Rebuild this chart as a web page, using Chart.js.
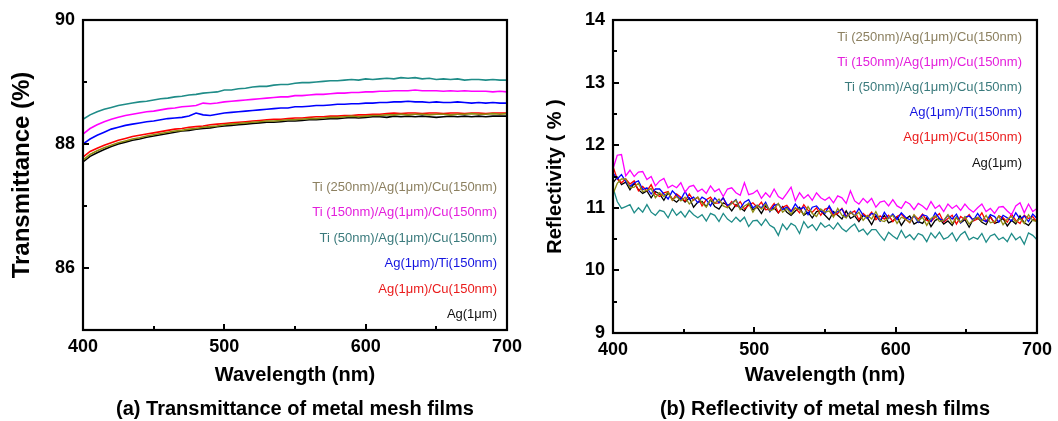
<!DOCTYPE html>
<html>
<head>
<meta charset="utf-8">
<title>Metal mesh films</title>
<script src="https://cdn.jsdelivr.net/npm/chart.js@4.4.1/dist/chart.umd.min.js"></script>
<style>
  html, body { margin: 0; padding: 0; background: #fff; }
  #wrap { position: relative; width: 1058px; height: 421px; }
  #wrap canvas { position: absolute; top: 0; }
  #trans { left: 0; }
  #refl { left: 530px; }
</style>
</head>
<body>
<div id="wrap">
  <canvas id="trans" width="530" height="421"></canvas>
  <canvas id="refl" width="528" height="421"></canvas>
</div>
<script>
const FONT = "'Liberation Sans', Arial, Helvetica, sans-serif";

// sample names, listed top to bottom as in the in-plot key
const sampleNames = [
  'Ti (250nm)/Ag(1μm)/Cu(150nm)',
  'Ti (150nm)/Ag(1μm)/Cu(150nm)',
  'Ti (50nm)/Ag(1μm)/Cu(150nm)',
  'Ag(1μm)/Ti(150nm)',
  'Ag(1μm)/Cu(150nm)',
  'Ag(1μm)'
];
const lineColors = ['#8e8c12', '#ff00ff', '#1f8c88', '#0000ff', '#ff0000', '#000000'];
const nameColors = ['#8c8060', '#e41edc', '#3a7a7c', '#1414e0', '#ea1c1c', '#111111'];

// transmittance (%), 400–700 nm every 5 nm
const transStart = 400, transStep = 5;
const transTi250 = [
  87.74, 87.83, 87.89, 87.94, 87.98, 88.02, 88.05, 88.08, 88.10, 88.13,
  88.15, 88.17, 88.19, 88.21, 88.22, 88.24, 88.25, 88.27, 88.28, 88.29,
  88.31, 88.32, 88.33, 88.34, 88.35, 88.36, 88.37, 88.37, 88.38, 88.39,
  88.39, 88.40, 88.41, 88.41, 88.42, 88.43, 88.43, 88.44, 88.45, 88.44,
  88.45, 88.46, 88.46, 88.47, 88.47, 88.48, 88.47, 88.48, 88.48, 88.47,
  88.48, 88.48, 88.47, 88.48, 88.48, 88.49, 88.48, 88.48, 88.49, 88.48,
  88.49
];
const transTi150 = [
  88.16, 88.25, 88.31, 88.36, 88.40, 88.43, 88.46, 88.48, 88.50, 88.52,
  88.53, 88.55, 88.57, 88.58, 88.60, 88.61, 88.62, 88.66, 88.65, 88.66,
  88.68, 88.69, 88.70, 88.71, 88.72, 88.73, 88.74, 88.75, 88.76, 88.76,
  88.78, 88.78, 88.79, 88.80, 88.80, 88.81, 88.82, 88.82, 88.83, 88.83,
  88.84, 88.84, 88.85, 88.85, 88.86, 88.86, 88.86, 88.87, 88.86, 88.86,
  88.86, 88.85, 88.86, 88.85, 88.86, 88.85, 88.85, 88.85, 88.84, 88.85,
  88.84
];
const transTi50 = [
  88.40, 88.47, 88.52, 88.56, 88.59, 88.62, 88.64, 88.66, 88.68, 88.69,
  88.71, 88.73, 88.74, 88.76, 88.77, 88.79, 88.80, 88.82, 88.83, 88.84,
  88.87, 88.87, 88.89, 88.90, 88.92, 88.93, 88.93, 88.95, 88.96, 88.96,
  88.98, 88.99, 88.99, 89.00, 89.01, 89.02, 89.02, 89.03, 89.04, 89.03,
  89.05, 89.04, 89.05, 89.06, 89.05, 89.07, 89.06, 89.07, 89.05, 89.06,
  89.04, 89.05, 89.04, 89.05, 89.03, 89.04, 89.04, 89.03, 89.04, 89.03,
  89.03
];
const transAgTi = [
  88.00, 88.08, 88.14, 88.19, 88.24, 88.27, 88.30, 88.32, 88.34, 88.36,
  88.37, 88.39, 88.41, 88.42, 88.43, 88.45, 88.50, 88.47, 88.46, 88.48,
  88.50, 88.51, 88.52, 88.53, 88.54, 88.55, 88.56, 88.57, 88.58, 88.58,
  88.60, 88.60, 88.61, 88.62, 88.62, 88.63, 88.64, 88.64, 88.65, 88.65,
  88.66, 88.66, 88.67, 88.67, 88.68, 88.68, 88.69, 88.68, 88.68, 88.67,
  88.68, 88.67, 88.67, 88.68, 88.67, 88.66, 88.67, 88.66, 88.67, 88.66,
  88.66
];
const transAgCu = [
  87.79, 87.88, 87.93, 87.98, 88.02, 88.06, 88.09, 88.12, 88.14, 88.16,
  88.18, 88.20, 88.22, 88.24, 88.25, 88.27, 88.28, 88.29, 88.31, 88.32,
  88.33, 88.34, 88.35, 88.36, 88.37, 88.38, 88.39, 88.40, 88.40, 88.41,
  88.42, 88.42, 88.43, 88.44, 88.44, 88.45, 88.45, 88.46, 88.46, 88.47,
  88.47, 88.48, 88.48, 88.49, 88.50, 88.49, 88.50, 88.50, 88.49, 88.50,
  88.50, 88.49, 88.50, 88.50, 88.49, 88.50, 88.50, 88.49, 88.50, 88.50,
  88.50
];
const transAg = [
  87.71, 87.80, 87.86, 87.91, 87.96, 88.00, 88.03, 88.06, 88.08, 88.11,
  88.13, 88.15, 88.17, 88.19, 88.21, 88.22, 88.24, 88.25, 88.26, 88.28,
  88.29, 88.30, 88.31, 88.32, 88.33, 88.34, 88.35, 88.35, 88.36, 88.37,
  88.37, 88.38, 88.39, 88.39, 88.40, 88.41, 88.41, 88.42, 88.43, 88.42,
  88.43, 88.44, 88.44, 88.43, 88.45, 88.44, 88.45, 88.44, 88.45, 88.44,
  88.43, 88.44, 88.45, 88.44, 88.45, 88.44, 88.45, 88.44, 88.45, 88.45,
  88.45
];

// reflectivity (%), 400–700 nm every 3 nm
const reflStart = 400, reflStep = 3;
const reflTi250 = [
  11.22, 11.39, 11.46, 11.46, 11.32, 11.33, 11.39, 11.26, 11.28, 11.31,
  11.16, 11.24, 11.18, 11.25, 11.12, 11.18, 11.11, 11.17, 11.06, 11.13,
  11.17, 11.08, 11.01, 11.13, 11.07, 11.14, 11.03, 11.00, 11.07, 11.12,
  10.97, 11.03, 11.07, 10.93, 11.04, 10.98, 11.06, 10.95, 10.98, 11.07,
  10.93, 10.99, 10.90, 11.00, 10.97, 10.89, 11.02, 10.91, 10.86, 10.98,
  10.93, 10.95, 10.85, 10.99, 10.88, 10.84, 10.93, 10.87, 10.93, 10.80,
  10.88, 10.82, 10.94, 10.80, 10.78, 10.84, 10.88, 10.75, 10.85, 10.82,
  10.77, 10.89, 10.79, 10.85, 10.72, 10.83, 10.87, 10.78, 10.80, 10.89,
  10.75, 10.84, 10.77, 10.86, 10.74, 10.81, 10.85, 10.79, 10.88, 10.76,
  10.78, 10.87, 10.73, 10.82, 10.86, 10.77, 10.83, 10.75, 10.89, 10.80,
  10.78
];
const reflTi150 = [
  11.62, 11.84, 11.85, 11.51, 11.60, 11.50, 11.57, 11.58, 11.45, 11.50,
  11.35, 11.43, 11.47, 11.32, 11.36, 11.32, 11.40, 11.25, 11.34, 11.36,
  11.26, 11.30, 11.23, 11.35, 11.26, 11.30, 11.18, 11.30, 11.32, 11.24,
  11.20, 11.40, 11.21, 11.23, 11.28, 11.15, 11.24, 11.17, 11.30, 11.18,
  11.14, 11.23, 11.33, 11.11, 11.24, 11.15, 11.21, 11.12, 11.24, 11.16,
  11.12, 11.17, 11.08, 11.19, 11.16, 11.07, 11.27, 11.11, 11.06, 11.15,
  11.08, 11.15, 11.01, 11.09, 11.11, 11.03, 11.13, 11.03, 10.99, 11.10,
  11.06, 10.97, 11.07, 11.03, 10.97, 11.10, 10.99, 11.04, 10.94, 11.06,
  10.99, 11.04, 10.96, 11.06, 10.98, 10.93, 11.00, 11.06, 10.94, 10.99,
  10.91, 11.01, 11.02, 10.95, 10.89, 11.03, 11.08, 10.92, 11.06, 10.94,
  10.99
];
const reflTi50 = [
  11.32, 11.10, 10.99, 11.02, 11.05, 10.92, 11.00, 10.93, 11.05, 10.93,
  10.88, 10.96, 10.94, 10.84, 10.98, 10.88, 10.94, 10.85, 10.96, 10.89,
  10.84, 10.89, 10.79, 10.91, 10.88, 10.78, 10.91, 10.82, 10.77, 10.85,
  10.78, 10.85, 10.70, 10.79, 10.80, 10.72, 10.82, 10.72, 10.68, 10.56,
  10.74, 10.65, 10.75, 10.71, 10.59, 10.78, 10.68, 10.73, 10.64, 10.76,
  10.69, 10.73, 10.66, 10.76, 10.67, 10.62, 10.69, 10.74, 10.62, 10.66,
  10.57, 10.65, 10.65, 10.56, 10.48, 10.61, 10.55, 10.50, 10.64, 10.52,
  10.57, 10.49, 10.59, 10.56, 10.46, 10.60, 10.52, 10.61, 10.50, 10.53,
  10.60, 10.47, 10.57, 10.62, 10.49, 10.53, 10.50, 10.59, 10.45, 10.55,
  10.58, 10.49, 10.53, 10.46, 10.59, 10.49, 10.54, 10.42, 10.60, 10.56,
  10.49
];
const reflAgTi = [
  11.56, 11.46, 11.53, 11.42, 11.34, 11.40, 11.43, 11.29, 11.32, 11.22,
  11.30, 11.30, 11.22, 11.14, 11.27, 11.20, 11.13, 11.26, 11.13, 11.17,
  11.08, 11.17, 11.13, 11.03, 11.16, 11.08, 11.16, 11.04, 11.07, 11.13,
  10.99, 11.09, 11.13, 11.00, 11.04, 11.00, 11.09, 10.94, 11.04, 11.06,
  10.97, 11.01, 10.94, 11.06, 10.97, 11.01, 10.89, 11.01, 11.03, 10.95,
  10.91, 11.03, 10.91, 10.94, 10.98, 10.85, 10.94, 10.87, 10.99, 10.88,
  10.83, 10.91, 10.89, 10.79, 10.93, 10.83, 10.90, 10.81, 10.92, 10.85,
  10.81, 10.87, 10.77, 10.89, 10.87, 10.78, 10.92, 10.83, 10.79, 10.88,
  10.82, 10.90, 10.76, 10.85, 10.87, 10.80, 10.91, 10.81, 10.78, 10.89,
  10.86, 10.77, 10.88, 10.84, 10.79, 10.92, 10.82, 10.87, 10.78, 10.90,
  10.83
];
const reflAgCu = [
  11.66, 11.46, 11.40, 11.46, 11.38, 11.43, 11.27, 11.34, 11.27, 11.37,
  11.22, 11.18, 11.24, 11.26, 11.12, 11.22, 11.17, 11.11, 11.22, 11.12,
  11.17, 11.03, 11.13, 11.17, 11.07, 11.08, 11.16, 11.01, 11.10, 11.02,
  11.10, 10.98, 11.04, 11.08, 11.01, 11.09, 10.97, 10.98, 11.07, 10.92,
  11.01, 11.04, 10.95, 11.00, 10.92, 11.05, 10.96, 10.93, 11.00, 10.88,
  10.98, 11.00, 10.88, 10.91, 10.99, 10.87, 10.91, 10.95, 10.81, 10.91,
  10.85, 10.93, 10.81, 10.87, 10.82, 10.88, 10.78, 10.86, 10.90, 10.82,
  10.76, 10.88, 10.82, 10.90, 10.80, 10.78, 10.85, 10.91, 10.77, 10.83,
  10.88, 10.74, 10.86, 10.81, 10.89, 10.79, 10.82, 10.92, 10.78, 10.85,
  10.76, 10.87, 10.84, 10.77, 10.90, 10.80, 10.75, 10.88, 10.83, 10.86,
  10.77
];
const reflAg = [
  11.40, 11.49, 11.37, 11.41, 11.29, 11.39, 11.29, 11.23, 11.27, 11.16,
  11.26, 11.22, 11.12, 11.24, 11.14, 11.09, 11.16, 11.09, 11.16, 11.01,
  11.09, 11.10, 11.02, 11.13, 11.02, 10.98, 11.08, 11.04, 10.95, 11.05,
  11.00, 10.95, 11.07, 10.97, 11.01, 10.91, 11.03, 10.95, 11.00, 10.92,
  11.02, 10.93, 10.88, 10.95, 11.01, 10.88, 10.93, 10.84, 10.94, 10.95,
  10.88, 10.81, 10.94, 10.88, 10.82, 10.95, 10.83, 10.87, 10.78, 10.88,
  10.84, 10.73, 10.87, 10.79, 10.88, 10.76, 10.79, 10.86, 10.72, 10.82,
  10.87, 10.74, 10.78, 10.75, 10.84, 10.70, 10.80, 10.83, 10.74, 10.79,
  10.72, 10.85, 10.76, 10.81, 10.69, 10.82, 10.84, 10.77, 10.73, 10.86,
  10.75, 10.78, 10.83, 10.71, 10.80, 10.74, 10.87, 10.76, 10.72, 10.81,
  10.79
];

const transSeries = [transTi250, transTi150, transTi50, transAgTi, transAgCu, transAg];
const reflSeries = [reflTi250, reflTi150, reflTi50, reflAgTi, reflAgCu, reflAg];

function toPoints(values, start, step) {
  return values.map((v, i) => ({ x: start + i * step, y: v }));
}

function makeDatasets(series, start, step, width) {
  return series.map((values, i) => ({
    label: sampleNames[i],
    data: toPoints(values, start, step),
    borderColor: lineColors[i],
    nameColor: nameColors[i],
    borderWidth: width,
    pointRadius: 0,
    tension: 0
  }));
}

function isMultiple(v, step) {
  const r = v / step;
  return Math.abs(r - Math.round(r)) < 1e-6;
}

// frame, inward tick marks and the coloured sample names
const framePlugin = {
  id: 'frame',
  afterDatasetsDraw(chart, args, opts) {
    const { ctx, chartArea: a, scales: { x, y } } = chart;
    ctx.save();
    ctx.strokeStyle = '#000';
    ctx.lineWidth = 2;
    x.ticks.forEach(t => {
      const px = Math.round(x.getPixelForValue(t.value));
      const len = isMultiple(t.value, opts.majorX) ? 6 : 4;
      ctx.beginPath();
      ctx.moveTo(px, a.bottom);
      ctx.lineTo(px, a.bottom - len);
      ctx.stroke();
    });
    y.ticks.forEach(t => {
      const py = Math.round(y.getPixelForValue(t.value));
      const len = isMultiple(t.value, opts.majorY) ? 6 : 4;
      ctx.beginPath();
      ctx.moveTo(a.left, py);
      ctx.lineTo(a.left + len, py);
      ctx.stroke();
    });
    ctx.lineWidth = 2.2;
    ctx.strokeRect(a.left, a.top, a.width, a.height);

    ctx.font = `13px ${FONT}`;
    ctx.textAlign = 'right';
    ctx.textBaseline = 'middle';
    chart.data.datasets.forEach((ds, i) => {
      ctx.fillStyle = ds.nameColor;
      ctx.fillText(ds.label, a.right - opts.keyRight, a.top + opts.keyTop + i * opts.keyGap);
    });
    ctx.restore();
  }
};

function makeChart(id, cfg) {
  const tickFont = { family: FONT, size: 18, weight: 'bold' };
  return new Chart(document.getElementById(id), {
    type: 'line',
    data: { datasets: cfg.datasets },
    options: {
      responsive: false,
      animation: false,
      layout: { padding: { top: 20, right: cfg.padRight, left: 0, bottom: 0 } },
      plugins: {
        legend: { display: false },
        tooltip: { enabled: false },
        title: {
          display: true,
          position: 'bottom',
          fullSize: false,
          text: cfg.caption,
          color: '#000',
          font: { family: FONT, size: 20, weight: 'bold', lineHeight: 1.2 },
          padding: { top: 2, bottom: 0 }
        },
        frame: {
          majorX: 100,
          majorY: cfg.majorY,
          keyRight: cfg.keyRight,
          keyTop: cfg.keyTop,
          keyGap: cfg.keyGap
        }
      },
      scales: {
        x: {
          type: 'linear',
          min: 400,
          max: 700,
          grid: { display: false, drawTicks: false },
          border: { display: false },
          ticks: {
            stepSize: 50,
            padding: 6,
            color: '#000',
            font: tickFont,
            maxRotation: 0,
            callback: v => (isMultiple(v, 100) ? v : '')
          },
          title: {
            display: true,
            text: 'Wavelength (nm)',
            color: '#000',
            font: { family: FONT, size: 20, weight: 'bold', lineHeight: 1.2 },
            padding: { top: 0, bottom: 8 }
          },
          afterFit: s => { s.height = cfg.xHeight; }
        },
        y: {
          min: cfg.yMin,
          max: cfg.yMax,
          grid: { display: false, drawTicks: false },
          border: { display: false },
          ticks: {
            stepSize: cfg.yStep,
            padding: 8,
            color: '#000',
            font: tickFont,
            callback: v => (isMultiple(v, cfg.majorY) ? v : '')
          },
          title: {
            display: true,
            text: cfg.yTitle,
            color: '#000',
            font: { family: FONT, size: cfg.yTitleSize, weight: 'bold', lineHeight: 1.2 },
            padding: { top: cfg.yTitlePad, bottom: 0 }
          },
          afterFit: s => { s.width = 83; }
        }
      }
    },
    plugins: [framePlugin]
  });
}

makeChart('trans', {
  datasets: makeDatasets(transSeries, transStart, transStep, 1.6),
  caption: '(a) Transmittance of metal mesh films',
  padRight: 23,
  xHeight: 65,
  yMin: 85,
  yMax: 90,
  yStep: 1,
  majorY: 2,
  yTitle: 'Transmittance (%)',
  yTitleSize: 24,
  yTitlePad: 8,
  keyRight: 10,
  keyTop: 167,
  keyGap: 25.5
});

makeChart('refl', {
  datasets: makeDatasets(reflSeries, reflStart, reflStep, 1.3),
  caption: '(b) Reflectivity of metal mesh films',
  padRight: 21,
  xHeight: 62,
  yMin: 9,
  yMax: 14,
  yStep: 0.5,
  majorY: 1,
  yTitle: 'Reflectivity ( % )',
  yTitleSize: 20,
  yTitlePad: 13,
  keyRight: 15,
  keyTop: 17,
  keyGap: 25.2
});
</script>
</body>
</html>
